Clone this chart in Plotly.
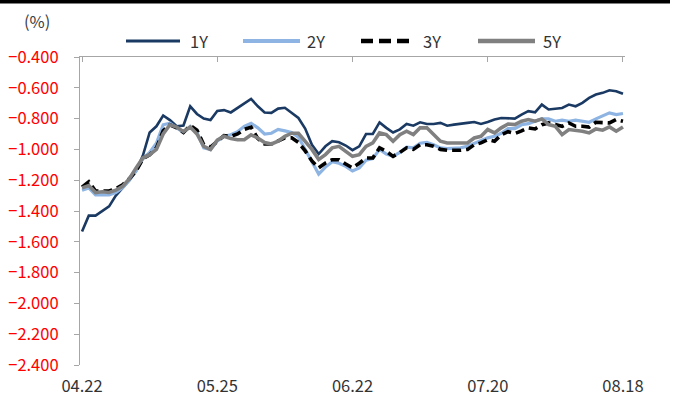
import plotly.graph_objects as go

tick_labels = ["04.22", "05.25", "06.22", "07.20", "08.18"]
tick_idx = [0, 20, 40, 60, 80]

y1 = [-1.533, -1.43, -1.43, -1.40, -1.37, -1.30, -1.25, -1.20, -1.14, -1.04,
      -0.89, -0.85, -0.78, -0.81, -0.85, -0.845, -0.72, -0.77, -0.80, -0.81,
      -0.75, -0.745, -0.76, -0.73, -0.70, -0.672, -0.72, -0.76, -0.763, -0.735,
      -0.73, -0.765, -0.796, -0.865, -0.97, -1.03, -0.98, -0.947, -0.954, -0.975,
      -1.005, -0.98, -0.90, -0.90, -0.825, -0.86, -0.89, -0.87, -0.835, -0.846,
      -0.824, -0.835, -0.835, -0.828, -0.846, -0.839, -0.835, -0.828, -0.822, -0.835,
      -0.822, -0.806, -0.796, -0.796, -0.80, -0.774, -0.752, -0.759, -0.709, -0.741,
      -0.737, -0.731, -0.709, -0.72, -0.698, -0.666, -0.644, -0.633, -0.616, -0.622,
      -0.639]

y2 = [-1.265, -1.25, -1.295, -1.295, -1.295, -1.28, -1.25, -1.20, -1.14, -1.06,
      -1.02, -0.96, -0.84, -0.83, -0.86, -0.89, -0.85, -0.89, -0.99, -1.00,
      -0.945, -0.915, -0.905, -0.885, -0.85, -0.83, -0.86, -0.90, -0.895, -0.87,
      -0.88, -0.89, -0.92, -1.00, -1.09, -1.16, -1.115, -1.08, -1.09, -1.11,
      -1.14, -1.12, -1.07, -1.06, -1.00, -1.03, -1.045, -1.02, -0.985, -0.99,
      -0.96, -0.955, -0.97, -0.99, -0.995, -0.995, -0.99, -0.98, -0.96, -0.94,
      -0.925, -0.915, -0.895, -0.865, -0.865, -0.84, -0.833, -0.817, -0.802, -0.802,
      -0.817, -0.81, -0.817, -0.81, -0.817, -0.824, -0.802, -0.785, -0.763, -0.774,
      -0.767]

y3 = [-1.245, -1.21, -1.27, -1.27, -1.27, -1.255, -1.23, -1.19, -1.14, -1.06,
      -1.035, -0.99, -0.88, -0.84, -0.86, -0.89, -0.845, -0.875, -0.97, -0.985,
      -0.945, -0.91, -0.915, -0.90, -0.87, -0.855, -0.93, -0.965, -0.965, -0.945,
      -0.925, -0.925, -0.955, -1.01, -1.075, -1.12, -1.088, -1.067, -1.067, -1.095,
      -1.12, -1.09, -1.056, -1.056, -0.99, -1.013, -1.045, -1.02, -0.99, -1.00,
      -0.97, -0.97, -0.98, -1.00, -1.006, -1.006, -1.006, -1.00, -0.97, -0.958,
      -0.937, -0.947, -0.905, -0.885, -0.897, -0.88, -0.86, -0.867, -0.84, -0.828,
      -0.84, -0.85, -0.828, -0.85, -0.85, -0.855, -0.824, -0.824, -0.828, -0.806,
      -0.817]

y5 = [-1.25, -1.235, -1.28, -1.275, -1.28, -1.265, -1.24, -1.19, -1.12, -1.056,
      -1.034, -1.00, -0.90, -0.84, -0.855, -0.885, -0.855, -0.90, -0.98, -1.00,
      -0.94, -0.915, -0.93, -0.937, -0.937, -0.905, -0.926, -0.955, -0.965, -0.947,
      -0.915, -0.895, -0.895, -0.945, -1.00, -1.065, -1.034, -0.99, -0.98, -1.013,
      -1.045, -1.034, -0.98, -0.958, -0.893, -0.904, -0.947, -0.904, -0.882, -0.904,
      -0.86, -0.86, -0.904, -0.947, -0.958, -0.958, -0.958, -0.958, -0.926, -0.915,
      -0.871, -0.893, -0.86, -0.835, -0.839, -0.817, -0.806, -0.817, -0.802, -0.839,
      -0.85, -0.904, -0.871, -0.875, -0.882, -0.893, -0.867, -0.875, -0.854, -0.882,
      -0.854]

series_names = ["1Y", "2Y", "3Y", "5Y"]
series_values = [y1, y2, y3, y5]
series_colors = ["#1B3A63", "#8DB4E2", "#000000", "#808080"]
series_widths = [2.6, 3.2, 3.6, 3.6]
series_dash = ["solid", "solid", "9px,5px", "solid"]

x = list(range(len(y1)))

FONT = "Noto Sans CJK KR"
W, H = 675, 406
L, R, T, B = 80, 50, 57, 41
PW, PH = W - L - R, H - T - B


def px(p):
    return (p - L) / PW


def py(p):
    return (H - B - p) / PH


fig = go.Figure()
for n, v, c, w, d in zip(series_names, series_values, series_colors, series_widths, series_dash):
    fig.add_trace(go.Scatter(x=x, y=v, name=n, mode="lines",
                             line=dict(color=c, width=w, dash=d)))

# invisible trace on top x axis for the top axis line with ticks
fig.add_trace(go.Scatter(x=[0, 80], y=[-0.4, -0.4], xaxis="x2", mode="lines",
                         line=dict(width=0), showlegend=False, hoverinfo="skip"))

fig.update_layout(
    width=W, height=H,
    margin=dict(l=L, r=R, t=T, b=B, autoexpand=False),
    paper_bgcolor="white", plot_bgcolor="white",
    font=dict(family=FONT, color="#333333", size=16),
    showlegend=False,
    xaxis=dict(range=[-0.3, 80.3], tickvals=tick_idx, ticktext=tick_labels,
               showgrid=False, zeroline=False, showline=False, ticks="",
               automargin=False, ticklabelstandoff=9,
               tickfont=dict(size=16.5, color="#333333")),
    xaxis2=dict(range=[-0.3, 80.3], overlaying="x", side="top",
                tickvals=tick_idx, showticklabels=False, showgrid=False,
                zeroline=False, showline=True, linecolor="#A6A6A6", linewidth=1.2,
                ticks="inside", ticklen=5, tickcolor="#A6A6A6", automargin=False),
    yaxis=dict(range=[-2.4, -0.4], dtick=0.2, tick0=-2.4, tickformat=".3f",
               showgrid=False, zeroline=False, showline=True, linecolor="#A6A6A6",
               linewidth=1.2, ticks="outside", ticklen=5, tickcolor="#A6A6A6",
               automargin=False, ticklabelstandoff=12,
               tickfont=dict(size=16.5, color="#FF0000")),
    hovermode=False,
)

fig.add_annotation(text="(%)", xref="paper", yref="paper", x=px(37), y=py(21),
                   showarrow=False, font=dict(size=16.5, color="#404040"),
                   xanchor="center", yanchor="middle")

# top black rule
fig.add_shape(type="rect", xref="paper", yref="paper",
              x0=px(0), x1=px(670), y0=py(0), y1=py(3.5),
              fillcolor="black", line=dict(width=0), layer="above")

# manual legend
leg_y = 41
leg_items = [(126, 180, 188), (243, 300, 305), (361, 411, 421), (478, 535, 541)]
leg_w = [3, 4, 4.5, 4.5]
for (x0, x1, tx), n, c, w, d in zip(leg_items, series_names, series_colors, leg_w, series_dash):
    fig.add_shape(type="line", xref="paper", yref="paper",
                  x0=px(x0), x1=px(x1), y0=py(leg_y), y1=py(leg_y),
                  line=dict(color=c, width=w,
                            dash=("12px,6px" if d != "solid" else "solid")))
    fig.add_annotation(text=n, xref="paper", yref="paper", x=px(tx), y=py(leg_y),
                       showarrow=False, xanchor="left", yanchor="middle",
                       font=dict(size=16.5, color="#333333"))

fig.write_html("out.html", config={"displayModeBar": False},
               post_script="document.body.style.margin='0';document.body.style.padding='0';")
